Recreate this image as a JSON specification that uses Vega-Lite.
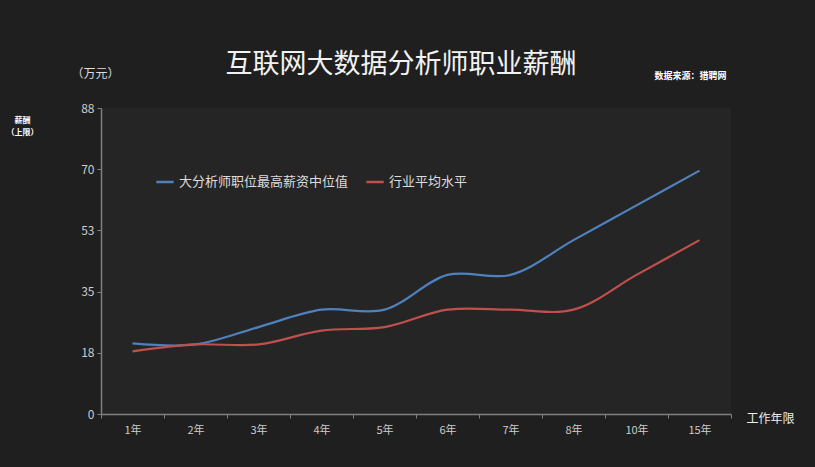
{
  "$schema": "https://vega.github.io/schema/vega-lite/v6.json",
  "width": 630,
  "height": 306,
  "autosize": "none",
  "padding": {"left": 101, "top": 108, "right": 84, "bottom": 53},
  "background": "#1f1f1f",
  "config": {
    "font": "Noto Sans CJK SC",
    "view": {"stroke": null, "fill": "#252525"}
  },
  "title": {
    "text": "互联网大数据分析师职业薪酬",
    "fontSize": 27,
    "fontWeight": "normal",
    "color": "#f2f2f2",
    "anchor": "middle",
    "dx": -15,
    "dy": 40,
    "offset": 28,
    "font": "Noto Sans CJK SC"
  },
  "data": {
    "values": [
      {"year": "1年", "series": "大分析师职位最高薪资中位值", "value": 20.3},
      {"year": "2年", "series": "大分析师职位最高薪资中位值", "value": 20},
      {"year": "3年", "series": "大分析师职位最高薪资中位值", "value": 25},
      {"year": "4年", "series": "大分析师职位最高薪资中位值", "value": 30},
      {"year": "5年", "series": "大分析师职位最高薪资中位值", "value": 30},
      {"year": "6年", "series": "大分析师职位最高薪资中位值", "value": 40},
      {"year": "7年", "series": "大分析师职位最高薪资中位值", "value": 40},
      {"year": "8年", "series": "大分析师职位最高薪资中位值", "value": 50},
      {"year": "10年", "series": "大分析师职位最高薪资中位值", "value": 60},
      {"year": "15年", "series": "大分析师职位最高薪资中位值", "value": 70},
      {"year": "1年", "series": "行业平均水平", "value": 18},
      {"year": "2年", "series": "行业平均水平", "value": 20},
      {"year": "3年", "series": "行业平均水平", "value": 20},
      {"year": "4年", "series": "行业平均水平", "value": 24},
      {"year": "5年", "series": "行业平均水平", "value": 25},
      {"year": "6年", "series": "行业平均水平", "value": 30},
      {"year": "7年", "series": "行业平均水平", "value": 30},
      {"year": "8年", "series": "行业平均水平", "value": 30},
      {"year": "10年", "series": "行业平均水平", "value": 40},
      {"year": "15年", "series": "行业平均水平", "value": 50}
    ]
  },
  "layer": [
    {
      "mark": {"type": "line", "interpolate": "catmull-rom", "strokeWidth": 2.2},
      "encoding": {
        "x": {
          "field": "year",
          "type": "ordinal",
          "sort": null,
          "scale": {"type": "band", "paddingInner": 0, "paddingOuter": 0},
          "axis": {
            "title": "工作年限",
            "titleColor": "#eeeeee",
            "titleFontSize": 12,
            "titleFontWeight": "normal",
            "titleAngle": 0,
            "titleX": 669,
            "titleY": 4,
            "titleAlign": "center",
            "titleBaseline": "middle",
            "labelAngle": 0,
            "labelColor": "#cccccc",
            "labelFontSize": 11,
            "labelPadding": 6,
            "domainColor": "#808080",
            "domainWidth": 1.5,
            "tickColor": "#808080",
            "tickSize": 4,
            "tickBand": "extent",
            "tickExtra": true
          }
        },
        "y": {
          "field": "value",
          "type": "quantitative",
          "scale": {"domain": [0, 88], "nice": false},
          "axis": {
            "values": [0, 17.6, 35.2, 52.8, 70.4, 88],
            "format": ".0f",
            "grid": false,
            "title": "（万元）",
            "titleColor": "#dddddd",
            "titleFontSize": 12,
            "titleFontWeight": "normal",
            "titleAngle": 0,
            "titleX": -6,
            "titleY": -35,
            "titleAlign": "center",
            "titleBaseline": "middle",
            "labelColor": "#cccccc",
            "labelFontSize": 12,
            "labelPadding": 3,
            "domainColor": "#808080",
            "domainWidth": 1.5,
            "tickColor": "#808080",
            "tickSize": 4
          }
        },
        "color": {
          "field": "series",
          "type": "nominal",
          "sort": null,
          "scale": {"range": ["#4f81bd", "#c0504d"]},
          "legend": {
            "title": null,
            "orient": "none",
            "direction": "horizontal",
            "legendX": 54,
            "legendY": 64,
            "symbolType": "stroke",
            "symbolStrokeWidth": 2.5,
            "symbolSize": 300,
            "labelColor": "#dddddd",
            "labelFontSize": 13,
            "labelOffset": 4,
            "labelLimit": 400,
            "columnPadding": 12
          }
        }
      }
    },
    {
      "mark": {"type": "point", "opacity": 0},
      "encoding": {
        "x": {
          "field": "year",
          "type": "ordinal",
          "sort": null,
          "axis": {
            "orient": "top",
            "labels": false,
            "ticks": false,
            "domain": false,
            "title": "数据来源：猎聘网",
            "titleColor": "#ffffff",
            "titleFontSize": 9,
            "titleFontWeight": "bold",
            "titleAngle": 0,
            "titleX": 589,
            "titleY": -33,
            "titleAlign": "center",
            "titleBaseline": "middle"
          }
        },
        "y": {
          "field": "value",
          "type": "quantitative",
          "axis": {
            "orient": "right",
            "labels": false,
            "ticks": false,
            "domain": false,
            "grid": false,
            "title": ["薪酬", "（上限）"],
            "titleColor": "#ffffff",
            "titleFontSize": 8,
            "titleFontWeight": "bold",
            "titleAngle": 0,
            "titleX": -709,
            "titleY": 12,
            "titleAlign": "center",
            "titleBaseline": "middle",
            "titleLineHeight": 12
          }
        }
      }
    }
  ],
  "resolve": {"scale": {"x": "independent", "y": "independent"}, "axis": {"x": "independent", "y": "independent"}}
}
